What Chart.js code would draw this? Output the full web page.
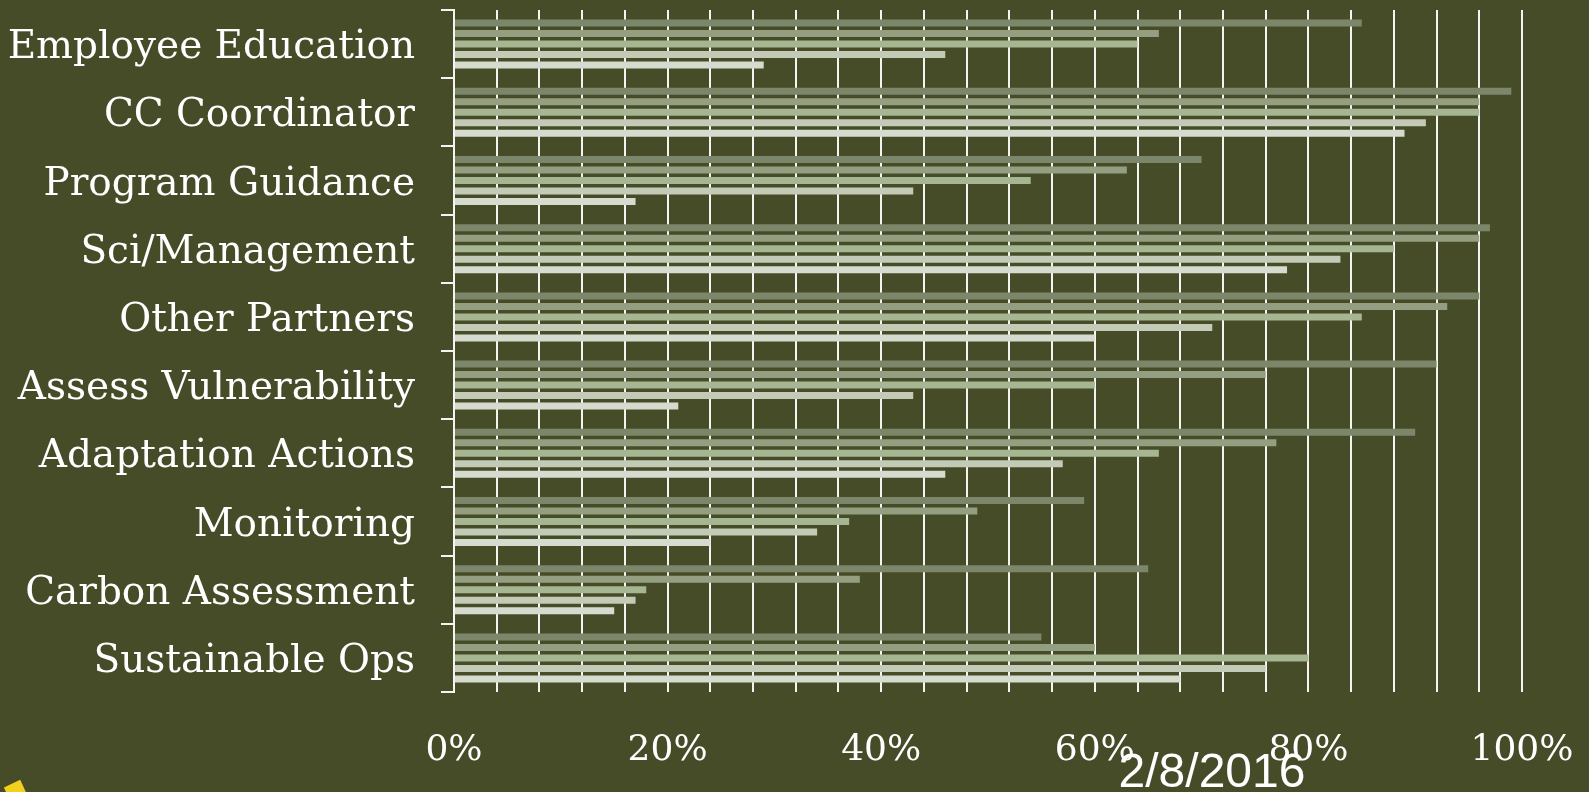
<!DOCTYPE html>
<html>
<head>
<meta charset="utf-8">
<script src="https://cdn.jsdelivr.net/npm/chart.js@4"></script>
<style>
  html, body { margin: 0; padding: 0; background: #464c27; overflow: hidden; }
  #wrap { position: relative; width: 1589px; height: 792px; }
  #date {
    position: absolute; left: 1212px; top: 747px; transform: translateX(-50%);
    font-family: "Liberation Sans", Arial, sans-serif; font-size: 48px; color: #ffffff;
    white-space: nowrap; line-height: 1;
  }
  #mark {
    position: absolute; left: 6px; top: 783px; width: 18px; height: 14px;
    background: #f2d01e; transform: rotate(-25deg);
  }
</style>
</head>
<body>
<div id="wrap">
  <canvas id="surveyChart" width="1589" height="792"></canvas>
  <div id="date">2/8/2016</div>
  <div id="mark"></div>
</div>
<script>
// categories, top to bottom
const categories = ['Employee Education', 'CC Coordinator', 'Program Guidance', 'Sci/Management',
    'Other Partners', 'Assess Vulnerability', 'Adaptation Actions', 'Monitoring',
    'Carbon Assessment', 'Sustainable Ops'];

// percent values, one array per bar in each group (top bar first)
const series1 = [85, 99, 70, 97, 96, 92, 90, 59, 65, 55];
const series2 = [66, 96, 63, 96, 93, 76, 77, 49, 38, 60];
const series3 = [64, 96, 54, 88, 85, 60, 66, 37, 18, 80];
const series4 = [46, 91, 43, 83, 71, 43, 57, 34, 17, 76];
const series5 = [29, 89, 17, 78, 60, 21, 46, 24, 15, 68];

const seriesColors = ['#7c866a', '#939f80', '#a6b592', '#c3cab6', '#d6dbd0'];
const allSeries = [series1, series2, series3, series4, series5];

// chart.js adds label overflow to the layout, drop it so the plot fills the slide
function noScalePadding(scale) {
    scale.paddingTop = 0;
    scale.paddingBottom = 0;
    scale.paddingLeft = 0;
    scale.paddingRight = 0;
}

const ctx = document.getElementById('surveyChart').getContext('2d');

new Chart(ctx, {
    type: 'bar',
    data: {
        labels: categories,
        datasets: allSeries.map((values, i) => ({
            label: 'Series ' + (i + 1),
            data: values,
            backgroundColor: seriesColors[i],
            borderWidth: 0,
            categoryPercentage: 0.77,
            barPercentage: 0.667
        }))
    },
    options: {
        indexAxis: 'y',
        responsive: false,
        animation: false,
        layout: { padding: { top: 10, right: 67, left: 0, bottom: 0 } },
        plugins: {
            legend: { display: false },
            tooltip: { enabled: false }
        },
        scales: {
            x: {
                min: 0,
                max: 100,
                z: 1,
                afterFit: scale => { scale.height = 100; noScalePadding(scale); },
                border: { display: false },
                grid: { color: '#f4f4f0', lineWidth: 2, drawTicks: false },
                ticks: {
                    stepSize: 4,
                    autoSkip: false,
                    maxRotation: 0,
                    padding: 37,
                    color: '#ffffff',
                    font: { family: '"DejaVu Serif", serif', size: 36 },
                    callback: value => (value % 20 === 0 ? value + '%' : '')
                }
            },
            y: {
                afterFit: scale => { scale.width = 454; noScalePadding(scale); },
                border: { display: true, color: '#f4f4f0', width: 2 },
                grid: {
                    offset: true,
                    drawOnChartArea: false,
                    drawTicks: true,
                    tickLength: 13,
                    color: '#f4f4f0',
                    lineWidth: 2
                },
                ticks: {
                    padding: 26,
                    labelOffset: 4,
                    color: '#ffffff',
                    font: { family: '"DejaVu Serif", serif', size: 39 }
                }
            }
        }
    }
});
</script>
</body>
</html>
